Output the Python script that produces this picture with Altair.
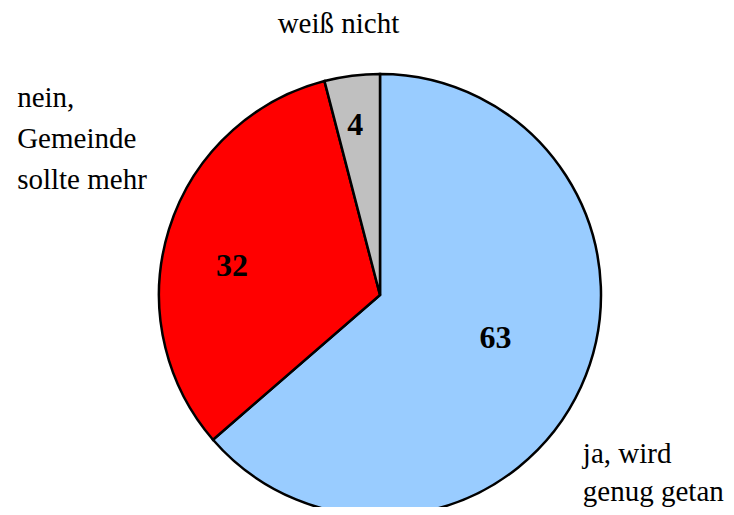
import altair as alt
import pandas as pd

categories = ["ja, wird genug getan", "nein, Gemeinde sollte mehr", "weiß nicht"]
values = [63, 32, 4]
value_labels = ["63", "32", "4"]
label_texts = ["ja, wird\ngenug getan", "nein,\nGemeinde\nsollte mehr", "weiß nicht"]
colors = ["#99CCFF", "#FF0000", "#C0C0C0"]

df = pd.DataFrame({
    "cat": categories,
    "value": values,
    "vlabel": value_labels,
    "label": label_texts,
    "ord": list(range(len(categories))),
})

FONT = "Liberation Serif"

base = alt.Chart(df)

pie = base.mark_arc(outerRadius=221, stroke="black", strokeWidth=2.5).encode(
    theta=alt.Theta("value:Q", stack=True),
    order=alt.Order("ord:Q"),
    color=alt.Color("cat:N", scale=alt.Scale(domain=categories, range=colors), legend=None),
)

# polar angle (radians) of each slice's middle, computed from the data
angled = base.transform_window(
    cum="sum(value)", sort=[alt.SortField("ord")], frame=[None, 0]
).transform_joinaggregate(
    total="sum(value)"
).transform_calculate(
    ang="2*PI*(datum.cum - datum.value/2)/datum.total"
)

# styling per slice: (radius, dx, dy) for the numbers and the outside labels
num_style = {
    categories[0]: (127, 0, -10),
    categories[1]: (155, 0, 17),
    categories[2]: (171, -3, 0),
}
lab_style = {
    categories[0]: (223, 0, 75, "left", 38),
    categories[1]: (380, 0, -75, "left", 41),
    categories[2]: (265, -8, 1, "center", 40),
}

layers = [pie]
for c in categories:
    r, dx, dy = num_style[c]
    layers.append(
        angled.transform_filter(alt.datum.cat == c).mark_text(
            font=FONT, fontSize=32, fontWeight="bold", color="black",
            align="center", baseline="middle", radius=r, dx=dx, dy=dy,
        ).encode(theta=alt.Theta("ang:Q", scale=None), text="vlabel:N")
    )
    r, dx, dy, al, lh = lab_style[c]
    layers.append(
        angled.transform_filter(alt.datum.cat == c).mark_text(
            font=FONT, fontSize=29, color="black", lineBreak="\n", lineHeight=lh,
            align=al, baseline="alphabetic", radius=r, dx=dx, dy=dy,
        ).encode(theta=alt.Theta("ang:Q", scale=None), text="label:N")
    )

chart = alt.layer(*layers).properties(
    width=500,
    height=400,
    padding={"left": 122, "top": 87, "right": 96, "bottom": 12},
    autosize=alt.AutoSizeParams(type="none"),
).configure_view(stroke=None).configure(background="white")

chart.save("out.html", embed_options={"renderer": "svg", "actions": False})
